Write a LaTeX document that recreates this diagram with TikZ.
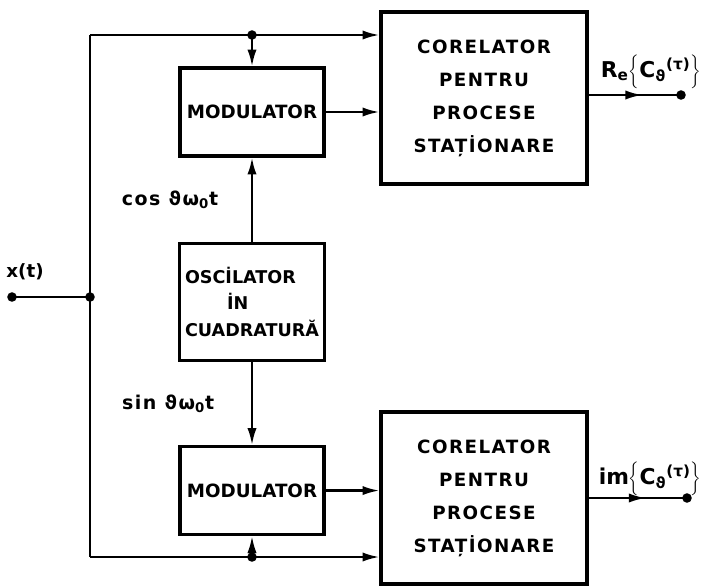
\documentclass[tikz,border=0pt]{standalone}
\usepackage{fontspec}
\setmainfont{DejaVu Sans Bold}
\usetikzlibrary{arrows.meta, positioning, decorations.markings}

\begin{document}
\begin{tikzpicture}[
  x=0.025cm, y=-0.025cm,
  font=\fontsize{13}{19}\selectfont,
  box/.style={rectangle, draw=black, line width=2.3pt, align=center, inner sep=1pt},
  modbox/.style={box, minimum width=3.6cm, minimum height=2.2cm},
  corbox/.style={box, minimum width=5.15cm, minimum height=4.3cm,
                 font=\fontsize{13}{23.5}\selectfont\addfontfeature{LetterSpace=8}},
  wire/.style={line width=1.6pt},
  arr/.style={wire, -{Latex[length=4.2mm, width=2.3mm]}},
  midarr/.style={wire, postaction={decorate},
                 decoration={markings, mark=at position 0.58 with {\arrow{Latex[length=4.2mm, width=2.3mm]}}}},
  lbl/.style={font=\fontsize{13.5}{16}\selectfont\addfontfeature{LetterSpace=8}},
  outlbl/.style={font=\fontsize{15.5}{18}\selectfont}
]
\useasboundingbox (0,0) rectangle (710,586);

\node[modbox] (mod1) at (252,112) {MODULATOR};
\node[box, minimum width=3.625cm, minimum height=2.925cm, align=left,
      font=\fontsize{12.5}{19}\selectfont, below=2.1cm of mod1] (osc)
      {OSCİLATOR\\\hspace*{1.05cm}İN\\CUADRATURĂ};
\node[modbox, below=2.075cm of osc] (mod2) {MODULATOR};

\node[corbox] (cor1) at (484,98)  {CORELATOR\\PENTRU\\PROCESE\\STAȚİONARE};
\node[corbox] (cor2) at (484,498) {CORELATOR\\PENTRU\\PROCESE\\STAȚİONARE};

% input and bus
\coordinate (in)   at (12,297);
\coordinate (jin)  at (90,297);
\coordinate (tl)   at (90,35);
\coordinate (bl)   at (90,557);
\coordinate (jtop) at (mod1 |- tl);
\coordinate (jbot) at (mod2 |- bl);
\coordinate (re)   at (681,95);
\coordinate (im)   at (687,498);

\node (xlab) at (25,272) {x(t)};

\draw[wire] (in) -- (jin);
\draw[wire] (tl) -- (bl);
\draw[arr] (tl) -- (tl -| cor1.west);
\draw[arr] (bl) -- (bl -| cor2.west);
\draw[arr] (jtop) -- (mod1);
\draw[arr] (jbot) -- (mod2);

% oscillator outputs
\draw[arr] (osc) -- node[lbl, left=0.7cm] (coslab) {cos ϑω\textsubscript{0}t} (mod1);
\draw[arr] (osc) -- node[lbl, left=0.8cm] (sinlab) {sin ϑω\textsubscript{0}t} (mod2);

\draw[arr] (mod1) -- (mod1 -| cor1.west);
\draw[arr] (mod2) -- (mod2 -| cor2.west);

% outputs
\draw[midarr] (cor1.east |- re) -- (re);
\draw[midarr] (cor2) -- (im);
\node[outlbl] (relab) at (651,72) {R\textsubscript{e}$\biggl\{$C\textsubscript{ϑ}\textsuperscript{(τ)}$\biggr\}$};
\node[outlbl] (imlab) at (650,479) {im$\biggl\{$C\textsubscript{ϑ}\textsuperscript{(τ)}$\biggr\}$};

\foreach \p in {in, jin, jtop, jbot, re, im}
  \fill (\p) circle (3.4pt);

\end{tikzpicture}
\end{document}
